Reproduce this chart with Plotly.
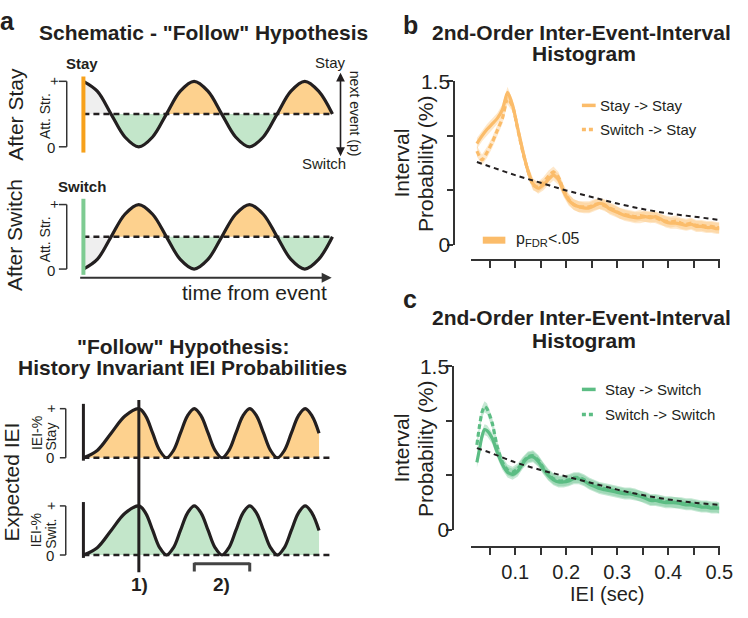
import plotly.graph_objects as go

W, H = 748, 618
FONT = "Liberation Sans, Arial, sans-serif"
INK = "#231F20"

# ---------------- data ----------------
# Panel b: 2nd-order IEI histogram, next event = Stay
IEI_B = [0.025, 0.035, 0.045, 0.055, 0.065, 0.075, 0.085, 0.095, 0.105, 0.115,
         0.125, 0.135, 0.145, 0.155, 0.165, 0.175, 0.185, 0.195, 0.205, 0.215,
         0.225, 0.235, 0.245, 0.255, 0.265, 0.275, 0.285, 0.295, 0.305, 0.315,
         0.325, 0.335, 0.345, 0.355, 0.365, 0.375, 0.385, 0.395, 0.405, 0.415,
         0.425, 0.435, 0.445, 0.455, 0.465, 0.475, 0.485, 0.495, 0.5]
STAY_STAY = [0.93, 1.00, 1.06, 1.11, 1.16, 1.24, 1.40, 1.28, 1.07, 0.86,
             0.68, 0.56, 0.52, 0.55, 0.60, 0.64, 0.60, 0.49, 0.41, 0.37,
             0.35, 0.34, 0.34, 0.36, 0.38, 0.37, 0.33, 0.31, 0.29, 0.27,
             0.26, 0.25, 0.25, 0.26, 0.25, 0.26, 0.24, 0.21, 0.20, 0.20,
             0.19, 0.18, 0.19, 0.17, 0.17, 0.16, 0.16, 0.15, 0.15]
SWITCH_STAY = [0.86, 0.78, 0.85, 0.94, 1.05, 1.16, 1.34, 1.27, 1.06, 0.85,
               0.68, 0.55, 0.53, 0.57, 0.63, 0.67, 0.62, 0.50, 0.42, 0.37,
               0.35, 0.35, 0.35, 0.37, 0.38, 0.36, 0.34, 0.32, 0.29, 0.28,
               0.27, 0.26, 0.27, 0.26, 0.26, 0.25, 0.23, 0.22, 0.21, 0.22,
               0.20, 0.19, 0.20, 0.18, 0.18, 0.17, 0.17, 0.16, 0.16]

# Panel c: next event = Switch
IEI_C = [0.025, 0.03, 0.035, 0.04, 0.045, 0.055, 0.065, 0.075, 0.085, 0.095,
         0.105, 0.115, 0.125, 0.135, 0.145, 0.155, 0.165, 0.175, 0.185, 0.195,
         0.205, 0.215, 0.225, 0.235, 0.245, 0.255, 0.265, 0.275, 0.285, 0.295,
         0.305, 0.315, 0.325, 0.335, 0.345, 0.355, 0.365, 0.375, 0.385, 0.395,
         0.405, 0.415, 0.425, 0.435, 0.445, 0.455, 0.465, 0.475, 0.485, 0.495, 0.5]
STAY_SWITCH = [0.62, 0.74, 0.86, 0.92, 0.91, 0.84, 0.71, 0.60, 0.53, 0.51,
               0.54, 0.61, 0.66, 0.67, 0.63, 0.56, 0.50, 0.46, 0.44, 0.44,
               0.45, 0.47, 0.47, 0.45, 0.42, 0.40, 0.38, 0.37, 0.36, 0.35,
               0.34, 0.33, 0.33, 0.32, 0.31, 0.29, 0.27, 0.27, 0.26, 0.25,
               0.25, 0.25, 0.24, 0.23, 0.23, 0.22, 0.21, 0.21, 0.20, 0.20, 0.20]
SWITCH_SWITCH = [0.78, 0.95, 1.08, 1.13, 1.11, 0.98, 0.76, 0.62, 0.55, 0.53,
                 0.56, 0.62, 0.67, 0.68, 0.64, 0.57, 0.51, 0.47, 0.45, 0.45,
                 0.46, 0.48, 0.48, 0.46, 0.43, 0.41, 0.39, 0.38, 0.37, 0.36,
                 0.35, 0.34, 0.34, 0.33, 0.31, 0.30, 0.28, 0.28, 0.27, 0.26,
                 0.26, 0.25, 0.25, 0.24, 0.24, 0.23, 0.22, 0.22, 0.21, 0.21, 0.20]

# dashed black reference (fit) curves
FIT_X = [0.025, 0.05, 0.1, 0.15, 0.2, 0.25, 0.3, 0.35, 0.4, 0.45, 0.5]
FIT_B = [0.76, 0.72, 0.64, 0.57, 0.50, 0.44, 0.38, 0.33, 0.29, 0.26, 0.23]
FIT_C = [0.75, 0.71, 0.62, 0.55, 0.49, 0.43, 0.37, 0.32, 0.28, 0.25, 0.23]
SEM_B = 0.05
SEM_C = 0.05

X_TICKS = [0.05, 0.1, 0.15, 0.2, 0.25, 0.3, 0.35, 0.4, 0.45, 0.5]
X_TICK_TEXT = ["", "0.1", "", "0.2", "", "0.3", "", "0.4", "", "0.5"]
Y_TICKS = [0, 0.5, 1.0, 1.5]
Y_TICK_TEXT = ["0", "", "", "1.5"]

# Schematic key points (time in oscillation cycles, attention strength 0..1)
SCHEM_T = [0, 0.125, 0.25, 0.375, 0.5, 0.625, 0.75, 0.875, 1.0, 1.125,
           1.25, 1.375, 1.5, 1.625, 1.75, 1.875, 2.0, 2.125, 2.25]
AFTER_STAY = [1, 0.85, 0.5, 0.15, 0, 0.15, 0.5, 0.85, 1, 0.85,
              0.5, 0.15, 0, 0.15, 0.5, 0.85, 1, 0.85, 0.5]
AFTER_SWITCH = [0, 0.15, 0.5, 0.85, 1, 0.85, 0.5, 0.15, 0, 0.15,
                0.5, 0.85, 1, 0.85, 0.5, 0.15, 0, 0.15, 0.5]
MIDLINE = 0.5

# Expected IEI key points (history invariant -> same for Stay and Switch)
IEI_U = [0, 0.25, 0.5, 0.75, 1, 1.125, 1.25, 1.375, 1.5, 1.625, 1.75, 1.875,
         2, 2.125, 2.25, 2.375, 2.5, 2.625, 2.75, 2.875, 3, 3.125, 3.25, 3.375,
         3.5, 3.625, 3.75, 3.875, 4, 4.125, 4.25]
IEI_P = [0, 0.15, 0.5, 0.85, 1, 0.85, 0.5, 0.15, 0, 0.15, 0.5, 0.85,
         1, 0.85, 0.5, 0.15, 0, 0.15, 0.5, 0.85, 1, 0.85, 0.5, 0.15,
         0, 0.15, 0.5, 0.85, 1, 0.85, 0.5]
IEI_BASE_END = 4.5

# ---------------- styles ----------------
ORANGE_LINE = "#FBBC6A"
ORANGE_BAND = "rgba(251,188,106,0.35)"
GREEN_LINE = "#5CBD84"
GREEN_BAND = "rgba(92,189,132,0.35)"
ORANGE_FILL = "#FDD18E"
GREEN_FILL = "#C3E6CA"
GRAY_FILL = "#EFEFEF"
STAY_BAR = "#F7A11B"
SWITCH_BAR = "#7ECB92"


def px(x):
    return x / W


def py(y):
    return 1 - y / H


def lin(pa, va, pb, vb, rng):
    s = (pb - pa) / (vb - va)
    return [pa + (v - va) * s for v in rng]


def xdom(pix):
    return sorted([p / W for p in pix])


def ydom(pix):
    return sorted([1 - p / H for p in pix])


fig = go.Figure()
shapes = []
annotations = []


def seg(x0, y0, x1, y1, color=INK, width=1.5, dash="solid", xref="paper"):
    shapes.append(dict(type="line", xref=xref, yref="paper",
                       x0=x0 if xref != "paper" else px(x0), y0=py(y0),
                       x1=x1 if xref != "paper" else px(x1), y1=py(y1),
                       line=dict(color=color, width=width, dash=dash)))


def txt(x, y, s, size, bold=False, angle=0, xanchor="center", color=INK):
    annotations.append(dict(x=px(x), y=py(y), xref="paper", yref="paper",
                            text=("<b>%s</b>" % s) if bold else s, showarrow=False,
                            font=dict(size=size, color=color, family=FONT),
                            textangle=angle, xanchor=xanchor, yanchor="middle"))


# ---------------- panel a: schematic ----------------
def add_schematic(curve, xa, ya):
    bounds = [0] + [i for i, v in enumerate(curve) if v == MIDLINE and i > 0]
    for a, b in zip(bounds[:-1], bounds[1:]):
        xs = SCHEM_T[a:b + 1]
        ys = curve[a:b + 1]
        if a == 0:
            col = GRAY_FILL
        elif max(ys) > MIDLINE:
            col = ORANGE_FILL
        else:
            col = GREEN_FILL
        fig.add_trace(go.Scatter(x=[xs[0], xs[-1]], y=[MIDLINE, MIDLINE], mode="lines",
                                 line=dict(width=0), xaxis=xa, yaxis=ya, hoverinfo="skip"))
        fig.add_trace(go.Scatter(x=xs, y=ys, mode="lines", line=dict(width=0, shape="spline"),
                                 fill="tonexty", fillcolor=col, xaxis=xa, yaxis=ya,
                                 hoverinfo="skip"))
    fig.add_trace(go.Scatter(x=[SCHEM_T[0], SCHEM_T[-1]], y=[MIDLINE, MIDLINE], mode="lines",
                             line=dict(color=INK, width=2.5, dash="6px,4px"),
                             xaxis=xa, yaxis=ya))
    fig.add_trace(go.Scatter(x=SCHEM_T, y=curve, mode="lines",
                             line=dict(color=INK, width=3.2, shape="spline"),
                             xaxis=xa, yaxis=ya))


add_schematic(AFTER_STAY, "x3", "y3")
add_schematic(AFTER_SWITCH, "x4", "y4")


def add_iei(col, xa, ya):
    fig.add_trace(go.Scatter(x=IEI_U, y=IEI_P, mode="lines",
                             line=dict(color=INK, width=3.2, shape="spline"),
                             fill="tozeroy", fillcolor=col, xaxis=xa, yaxis=ya))
    fig.add_trace(go.Scatter(x=[IEI_U[0], IEI_BASE_END], y=[0, 0], mode="lines",
                             line=dict(color=INK, width=2.5, dash="6px,4px"),
                             xaxis=xa, yaxis=ya))


add_iei(ORANGE_FILL, "x5", "y5")
add_iei(GREEN_FILL, "x6", "y6")


# ---------------- panels b, c ----------------
def add_series(x, y, sem, line_col, band_col, dash, xa, ya):
    up = [v + sem for v in y]
    lo = [v - sem for v in y]
    fig.add_trace(go.Scatter(x=list(x) + list(x)[::-1], y=up + lo[::-1], mode="lines",
                             fill="toself", fillcolor=band_col, line=dict(width=0),
                             xaxis=xa, yaxis=ya, hoverinfo="skip"))
    fig.add_trace(go.Scatter(x=x, y=y, mode="lines",
                             line=dict(color=line_col, width=3.2, dash=dash,
                                       shape="spline", smoothing=0.6),
                             xaxis=xa, yaxis=ya))


add_series(IEI_B, SWITCH_STAY, SEM_B, ORANGE_LINE, ORANGE_BAND, "5px,3px", "x", "y")
add_series(IEI_B, STAY_STAY, SEM_B, ORANGE_LINE, ORANGE_BAND, "solid", "x", "y")
fig.add_trace(go.Scatter(x=FIT_X, y=FIT_B, mode="lines",
                         line=dict(color=INK, width=2, dash="5px,4px", shape="spline"),
                         xaxis="x", yaxis="y"))

add_series(IEI_C, SWITCH_SWITCH, SEM_C, GREEN_LINE, GREEN_BAND, "5px,3px", "x2", "y2")
add_series(IEI_C, STAY_SWITCH, SEM_C, GREEN_LINE, GREEN_BAND, "solid", "x2", "y2")
fig.add_trace(go.Scatter(x=FIT_X, y=FIT_C, mode="lines",
                         line=dict(color=INK, width=2, dash="5px,4px", shape="spline"),
                         xaxis="x2", yaxis="y2"))

# ---------------- axes ----------------
XR = [0.0135, 0.5005]
x_dom_bc = xdom(lin(499, 0.05, 733, 0.5, XR))
YR = [0, 1.5]

xcommon = dict(showline=True, linecolor="#333", linewidth=2, ticks="outside", ticklen=7,
               tickwidth=1.5, tickcolor="#333", showgrid=False, zeroline=False,
               tickvals=X_TICKS, tickfont=dict(size=20, color=INK, family=FONT),
               ticklabelstandoff=0,
               range=XR, domain=x_dom_bc, anchor="free", fixedrange=True)
ycommon = dict(showline=True, linecolor="#333", linewidth=2, ticks="outside", ticklen=6,
               tickwidth=1.5, tickcolor="#333", showgrid=False, zeroline=False,
               tickvals=Y_TICKS, ticktext=Y_TICK_TEXT,
               tickfont=dict(size=21, color=INK, family=FONT),
               ticklabelstandoff=-7,
               range=YR, anchor="free", fixedrange=True)

SR = [-0.03, 2.28]
sx_dom = xdom(lin(85, 0, 197.8, 1, SR))
SYR = [-0.12, 1.12]
UR = [-0.06, 4.56]
ux_dom = xdom(lin(85, 0, 141.5, 1, UR))
UYR = [-0.12, 1.15]

hidden = dict(visible=False, fixedrange=True)

fig.update_layout(
    width=W, height=H, margin=dict(l=0, r=0, t=0, b=0),
    paper_bgcolor="white", plot_bgcolor="rgba(0,0,0,0)", showlegend=False,
    font=dict(family=FONT, color=INK),
    xaxis=dict(xcommon, position=py(258), ticktext=[""] * len(X_TICKS)),
    yaxis=dict(ycommon, domain=ydom(lin(242, 0, 72, 1.5, YR)), position=px(463)),
    xaxis2=dict(xcommon, position=py(556), ticktext=X_TICK_TEXT),
    yaxis2=dict(ycommon, domain=ydom(lin(538, 0, 368, 1.5, YR)), position=px(462)),
    xaxis3=dict(hidden, domain=sx_dom, range=SR, anchor="y3"),
    yaxis3=dict(hidden, domain=ydom(lin(140, 0, 72, 1, SYR)), range=SYR, anchor="x3"),
    xaxis4=dict(hidden, domain=sx_dom, range=SR, anchor="y4"),
    yaxis4=dict(hidden, domain=ydom(lin(267, 0, 200, 1, SYR)), range=SYR, anchor="x4"),
    xaxis5=dict(hidden, domain=ux_dom, range=UR, anchor="y5"),
    yaxis5=dict(hidden, domain=ydom(lin(463, 0, 412, 1, UYR)), range=UYR, anchor="x5"),
    xaxis6=dict(hidden, domain=ux_dom, range=UR, anchor="y6"),
    yaxis6=dict(hidden, domain=ydom(lin(564, 0, 513, 1, UYR)), range=UYR, anchor="x6"),
)

# ---------------- decorations: panel a ----------------
# event bars
seg(85, 67, 85, 146, STAY_BAR, 4)
seg(85, 194, 85, 273, SWITCH_BAR, 4)
# brackets for attention strength
for top, bot in [(72, 140), (200, 267)]:
    seg(68, top, 68, bot, "#333", 1.5)
    seg(60, top, 68, top, "#333", 1.5)
    seg(60, bot, 68, bot, "#333", 1.5)
# brackets for IEI-%
for top, bot in [(412, 463), (513, 564)]:
    seg(67, top, 67, bot, "#333", 1.5)
    seg(61, top, 67, top, "#333", 1.5)
    seg(61, bot, 67, bot, "#333", 1.5)
# left y lines of expected IEI plots
seg(85, 407, 85, 466, INK, 3)
seg(85, 509, 85, 567, INK, 3)
# marker 1) and bracket 2)
seg(1, 403, 1, 582, INK, 3, xref="x5")
seg(2, 573, 3, 573, "#444", 3, xref="x5")
seg(2, 572, 2, 581, "#444", 3, xref="x5")
seg(3, 572, 3, 581, "#444", 3, xref="x5")

# arrows
annotations.append(dict(x=px(347), y=py(63), xref="paper", yref="paper", ax=0, ay=85,
                        text="", showarrow=True, arrowhead=2, arrowside="end+start",
                        arrowsize=1.1, arrowwidth=1.6, arrowcolor=INK))
annotations.append(dict(x=px(338), y=py(276), xref="paper", yref="paper", ax=-253, ay=0,
                        text="", showarrow=True, arrowhead=2, arrowsize=1,
                        arrowwidth=2, arrowcolor="#333"))

# texts panel a
txt(8, 9, "a", 25, bold=True)
txt(207, 21, 'Schematic - "Follow" Hypothesis', 21, bold=True)
txt(84, 53, "Stay", 15, bold=True)
txt(84, 181, "Switch", 15, bold=True)
txt(15, 106, "After Stay", 21, angle=-90)
txt(15, 232, "After Switch", 21, angle=-90)
txt(46, 108, "Att. Str.", 14, angle=-90)
txt(46, 236, "Att. Str.", 14, angle=-90)
txt(55, 72, "+", 14, angle=-90)
txt(55, 200, "+", 14, angle=-90)
txt(52, 141, "0", 15)
txt(52, 268, "0", 15)
txt(337, 52, "Stay", 15)
txt(330, 157, "Switch", 15)
txt(362, 106, "next event (p)", 14, angle=90)
txt(259, 291, "time from event", 21)

txt(186, 347, '"Follow" Hypothesis:', 21, bold=True)
txt(186, 369, "History Invariant IEI Probabilities", 21, bold=True)
txt(12, 488, "Expected IEI", 21, angle=-90)
txt(37, 437, "IEI-%", 14, angle=-90)
txt(52, 441, "Stay", 14, angle=-90)
txt(52, 412, "+", 14, angle=-90)
txt(51, 463, "0", 15)
txt(37, 538, "IEI-%", 14, angle=-90)
txt(52, 542, "Swit.", 14, angle=-90)
txt(52, 513, "+", 14, angle=-90)
txt(51, 564, "0", 15)
txt(142, 595, "1)", 19, bold=True)
txt(226, 595, "2)", 19, bold=True)

# ---------------- texts & legends panels b, c ----------------
txt(418, 14, "b", 25, bold=True)
txt(593, 21, "2nd-Order Inter-Event-Interval", 21, bold=True)
txt(595, 43, "Histogram", 21, bold=True)
txt(409, 157, "Interval", 21, angle=-90)
txt(433, 157, "Probability (%)", 21, angle=-90)
seg(593, 97, 607, 97, ORANGE_LINE, 3.5)
seg(593, 122, 607, 122, ORANGE_LINE, 3.5, "4px,3px")
txt(609, 97, "Stay -&gt; Stay", 15, xanchor="left")
txt(609, 122, "Switch -&gt; Stay", 15, xanchor="left")
seg(492, 237, 515, 237, ORANGE_LINE, 7)
txt(524, 236, "p<sub>FDR</sub>&lt;.05", 16, xanchor="left")

txt(418, 298, "c", 25, bold=True)
txt(593, 317, "2nd-Order Inter-Event-Interval", 21, bold=True)
txt(595, 341, "Histogram", 21, bold=True)
txt(409, 453, "Interval", 21, angle=-90)
txt(433, 453, "Probability (%)", 21, angle=-90)
seg(593, 392, 607, 392, GREEN_LINE, 3.5)
seg(593, 418, 607, 418, GREEN_LINE, 3.5, "4px,3px")
txt(614, 392, "Stay -&gt; Switch", 15, xanchor="left")
txt(614, 418, "Switch -&gt; Switch", 15, xanchor="left")
txt(619, 605, "IEI (sec)", 20)

fig.update_layout(shapes=shapes, annotations=annotations)
fig.write_html("out.html")
